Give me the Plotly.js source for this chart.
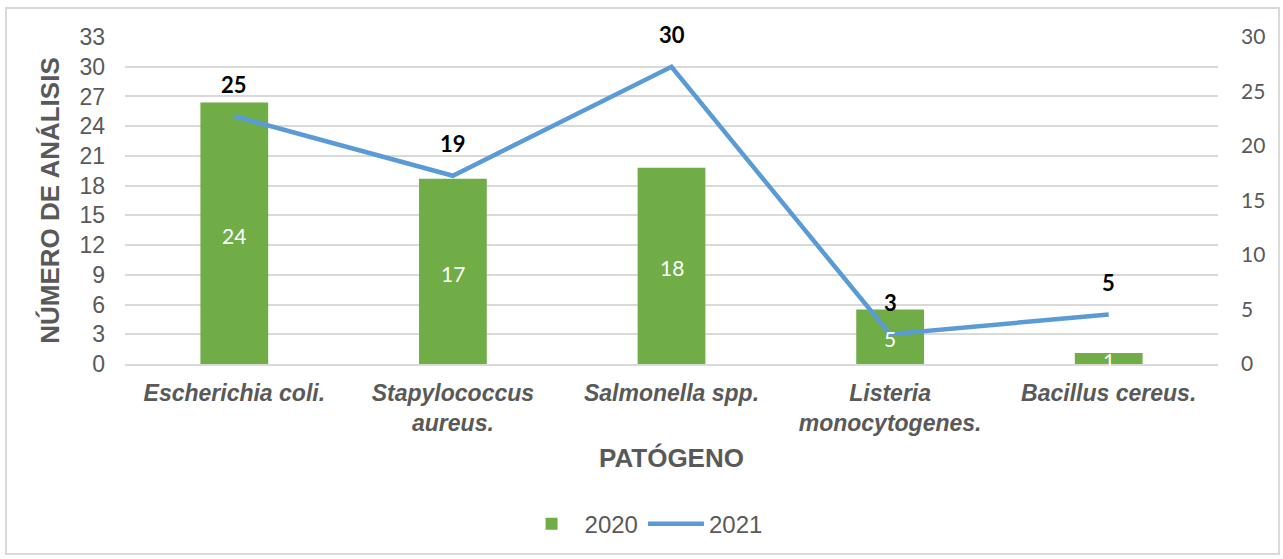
<!DOCTYPE html>
<html>
<head>
<meta charset="utf-8">
<script src="https://cdn.plot.ly/plotly-3.0.1.min.js"></script>
<style>
body{margin:0;padding:0;background:#fff;}
#wrap{position:relative;width:1283px;height:559px;}
#chart{position:absolute;left:0;top:0;width:1283px;height:559px;}
#frame{position:absolute;left:5px;top:7px;width:1271px;height:544px;border:2px solid #d9d9d9;pointer-events:none;}
</style>
</head>
<body>
<div id="wrap"><div id="chart"></div><div id="frame"></div></div>
<script>
const categories = ["Escherichia coli.", "Stapylococcus<br>aureus.", "Salmonella spp.", "Listeria<br>monocytogenes.", "Bacillus cereus."];
const values2020 = [24, 17, 18, 5, 1];
const values2021 = [25, 19, 30, 3, 5];
const leftTicks = [0, 3, 6, 9, 12, 15, 18, 21, 24, 27, 30, 33];
const rightTicks = [0, 5, 10, 15, 20, 25, 30];

const grey = '#595959';
const arial = 'Liberation Sans, Arial, sans-serif';

const bars = {
  type: 'bar', name: '2020', x: categories, y: values2020,
  xaxis: 'x', yaxis: 'y', width: 0.31,
  marker: {color: '#70ad47'}, hoverinfo: 'x+y'
};
const line = {
  type: 'scatter', mode: 'lines', name: '2021', x: categories, y: values2021,
  xaxis: 'x', yaxis: 'y2',
  line: {color: '#5b9bd5', width: 4.5}
};

const annotations = [];
categories.forEach((c, i) => {
  annotations.push({
    x: c, y: values2020[i] / 2, xref: 'x', yref: 'y', text: String(values2020[i]),
    showarrow: false, font: {family: 'Lato, sans-serif', size: 21, color: '#ffffff'}, yshift: -2
  });
  annotations.push({
    x: c, y: values2021[i], xref: 'x', yref: 'y2', text: String(values2021[i]),
    showarrow: false, font: {family: 'Lato, sans-serif', size: 22, color: '#000000', weight: 'bold'}, yshift: 32
  });
});

const layout = {
  width: 1283, height: 559,
  margin: {l: 125, r: 65, t: 37, b: 193},
  paper_bgcolor: '#ffffff', plot_bgcolor: '#ffffff',
  showlegend: true,
  legend: {orientation: 'h', x: 0.474, xanchor: 'center', y: -0.49, yanchor: 'middle', itemwidth: 56,
           font: {family: arial, size: 24, color: grey}},
  xaxis: {
    type: 'category', showgrid: false, showline: true, linecolor: '#d9d9d9', linewidth: 2,
    ticks: '', ticklabelstandoff: 7,
    tickfont: {family: arial, size: 23, color: grey, weight: 'bold', style: 'italic'},
    title: {text: 'PATÓGENO', standoff: 14, font: {family: arial, size: 26, color: grey, weight: 'bold'}},
    automargin: false
  },
  yaxis: {
    side: 'right', range: [0, 30], tickvals: rightTicks, showgrid: false, zeroline: false,
    ticks: '', ticklabelstandoff: 22,
    tickfont: {family: 'Lato, sans-serif', size: 21, color: grey}, automargin: false
  },
  yaxis2: {
    overlaying: 'y', side: 'left', range: [0, 33], tickvals: leftTicks, showgrid: true,
    gridcolor: '#d9d9d9', gridwidth: 2, zeroline: false, ticks: '', ticklabelstandoff: 19,
    tickfont: {family: arial, size: 23, color: grey},
    title: {text: 'NÚMERO DE ANÁLISIS', standoff: 12, font: {family: arial, size: 26, color: grey, weight: 'bold'}},
    automargin: false
  },
  annotations: annotations
};

Plotly.newPlot('chart', [bars, line], layout, {displayModeBar: false, staticPlot: true});
</script>
</body>
</html>
